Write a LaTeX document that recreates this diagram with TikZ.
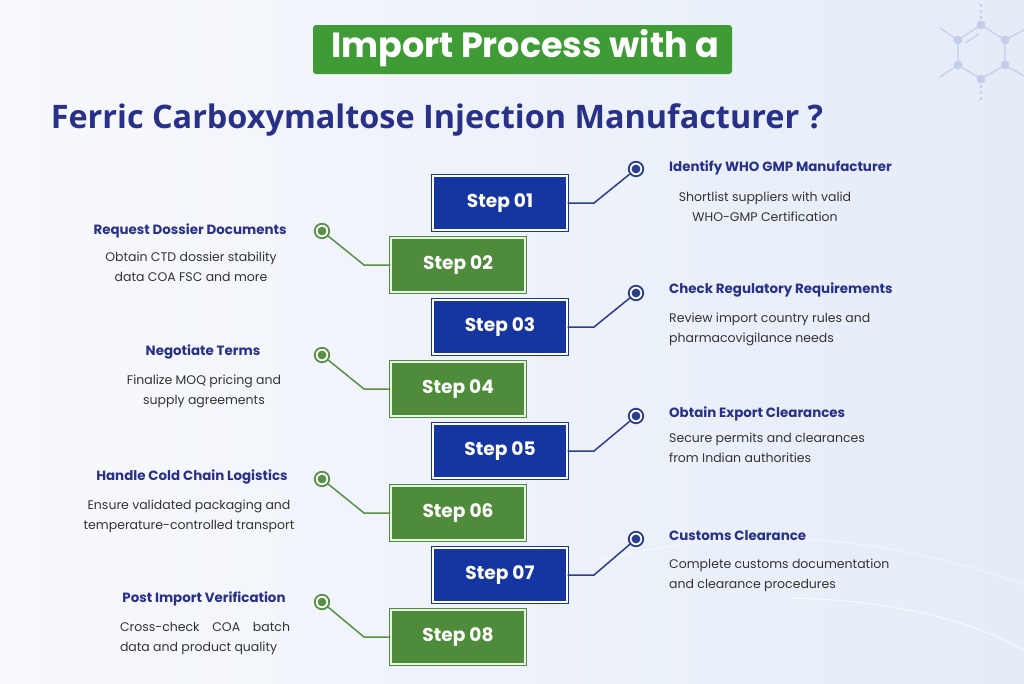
\documentclass[tikz,border=0pt]{standalone}
\usepackage{fontspec}
\setmainfont{Poppins}
\newfontfamily\headfont{Open Sans}
\usetikzlibrary{calc}

\definecolor{stepblue}{HTML}{1535A0}
\definecolor{stepgreen}{HTML}{4E8B3A}
\definecolor{bannergreen}{HTML}{3E9B35}
\definecolor{navytext}{HTML}{283088}
\definecolor{bodygray}{HTML}{333333}
\definecolor{linkblue}{HTML}{2C3D8C}
\definecolor{linkgreen}{HTML}{5A8F48}
\definecolor{molecule}{HTML}{C6CDEA}
\definecolor{bgleft}{HTML}{F8F9FC}
\definecolor{bgright}{HTML}{E4ECF8}

\begin{document}
\begin{tikzpicture}[x=1pt,y=-1pt,
  bluebox/.style={rectangle,fill=stepblue,draw=stepblue,double=white,double distance=1.6pt,
    line width=1.4pt,minimum width=134pt,minimum height=54pt,inner sep=0pt,text=white,
    font=\bfseries\fontsize{18.6}{20}\selectfont},
  greenbox/.style={bluebox,fill=stepgreen,draw=stepgreen,double=white!88!stepgreen},
  bluedot/.style={circle,draw=linkblue,line width=1.8pt,fill=white,minimum size=14.5pt,inner sep=0pt,
    path picture={\fill[linkblue] (path picture bounding box.center) circle (4.4);}},
  greendot/.style={bluedot,draw=linkgreen,
    path picture={\fill[linkgreen] (path picture bounding box.center) circle (4.4);}},
  bluelink/.style={draw=linkblue,line width=1.5pt},
  greenlink/.style={draw=linkgreen,line width=1.5pt},
  headline/.style={text=navytext,font=\bfseries\fontsize{13.4}{16}\selectfont,inner sep=0pt},
  bodytext/.style={text=bodygray,font=\fontsize{12.5}{20}\selectfont,inner sep=0pt}]

  % background
  \shade[left color=bgleft,right color=bgright] (0,0) rectangle (1024,683);
  \useasboundingbox (0,0) rectangle (1024,683);
  \draw[white,line width=1.2pt,opacity=0.7] (790,598) .. controls (880,600) and (960,615) .. (1024,650);
  \draw[white,line width=1pt,opacity=0.5] (600,560) .. controls (760,520) and (900,540) .. (1024,585);

  % molecule
  \coordinate (m1) at (981,25);
  \coordinate (m2) at (1005,40);
  \coordinate (m3) at (1005,65);
  \coordinate (m4) at (981,79);
  \coordinate (m5) at (958,65);
  \coordinate (m6) at (958,40);
  \draw[molecule,line width=1.2pt] (m1) -- (m2) -- (m3) -- (m4) -- (m5) -- (m6) -- cycle;
  \draw[molecule,line width=1.2pt] (m6) -- (940,28);
  \draw[molecule,line width=1.2pt] (m5) -- (940,77);
  \draw[molecule,line width=1.2pt] (m2) -- (1024,30);
  \draw[molecule,line width=1.2pt] (m3) -- (1024,76);
  \draw[molecule,line width=1.2pt] (965,43) -- (979,34);
  \draw[molecule,line width=1.2pt,dashed] (m1) -- (981,4);
  \draw[molecule,line width=1.2pt,dashed] (m4) -- (981,100);
  \foreach \m in {m1,m2,m3,m4,m5,m6}
    \fill[molecule] (\m) circle (4.4);

  % titles
  \fill[bannergreen,rounded corners=3pt] (313,25) rectangle (732,74);
  \node[anchor=base,text=white,inner sep=0pt,font=\bfseries\fontsize{35}{38}\selectfont] (banner) at (525,57) {Import Process with a};
  \node[anchor=base,text=navytext,inner sep=0pt,font=\headfont\bfseries\fontsize{32.4}{36}\selectfont] (maintitle) at (437,128) {Ferric Carboxymaltose Injection Manufacturer ?};

  % steps
  \node[bluebox] (step1) at (500,203) {Step 01};
  \node[greenbox] (step2) at (458,265) {Step 02};
  \node[bluebox] (step3) at (500,327) {Step 03};
  \node[greenbox] (step4) at (458,389) {Step 04};
  \node[bluebox] (step5) at (500,451) {Step 05};
  \node[greenbox] (step6) at (458,513) {Step 06};
  \node[bluebox] (step7) at (500,575) {Step 07};
  \node[greenbox] (step8) at (458,637) {Step 08};

  % markers
  \node[bluedot] (dot1) at (636,169) {};
  \node[greendot] (dot2) at (322,231) {};
  \node[bluedot] (dot3) at (636,293) {};
  \node[greendot] (dot4) at (322,355) {};
  \node[bluedot] (dot5) at (636,416) {};
  \node[greendot] (dot6) at (322,479) {};
  \node[bluedot] (dot7) at (636,539) {};
  \node[greendot] (dot8) at (322,602) {};

  \coordinate (bend1) at (594,203);
  \coordinate (bend2) at (364,265);
  \coordinate (bend3) at (594,327);
  \coordinate (bend4) at (364,389);
  \coordinate (bend5) at (594,451);
  \coordinate (bend6) at (364,513);
  \coordinate (bend7) at (594,575);
  \coordinate (bend8) at (364,637);

  \draw[bluelink] (step1.east) -- (bend1) -- (dot1);
  \draw[greenlink] (step2.west) -- (bend2) -- (dot2);
  \draw[bluelink] (step3.east) -- (bend3) -- (dot3);
  \draw[greenlink] (step4.west) -- (bend4) -- (dot4);
  \draw[bluelink] (step5.east) -- (bend5) -- (dot5);
  \draw[greenlink] (step6.west) -- (bend6) -- (dot6);
  \draw[bluelink] (step7.east) -- (bend7) -- (dot7);
  \draw[greenlink] (step8.west) -- (bend8) -- (dot8);

  % right side texts
  \node[headline,anchor=west] (head1) at (669,168) {Identify WHO GMP Manufacturer};
  \node[bodytext,align=center] (text1) at (765,207) {Shortlist suppliers with valid\\WHO-GMP Certification};
  \node[headline,anchor=west] (head3) at (669,290) {Check Regulatory Requirements};
  \node[bodytext,align=left,anchor=west] (text3) at (669,329) {Review import country rules and\\pharmacovigilance needs};
  \node[headline,anchor=west] (head5) at (669,414) {Obtain Export Clearances};
  \node[bodytext,align=left,anchor=west] (text5) at (669,448) {Secure permits and clearances\\from Indian authorities};
  \node[headline,anchor=west] (head7) at (669,536) {Customs Clearance};
  \node[bodytext,align=left,anchor=west] (text7) at (669,575) {Complete customs documentation\\and clearance procedures};

  % left side texts
  \node[headline] (head2) at (190,231) {Request Dossier Documents};
  \node[bodytext,align=center] (text2) at (191,267) {Obtain CTD dossier stability\\data COA FSC and more};
  \node[headline] (head4) at (203,352) {Negotiate Terms};
  \node[bodytext,align=center] (text4) at (204,391) {Finalize MOQ pricing and\\supply agreements};
  \node[headline] (head6) at (192,477) {Handle Cold Chain Logistics};
  \node[bodytext,align=center] (text6) at (189,516) {Ensure validated packaging and\\temperature-controlled transport};
  \node[headline] (head8) at (204,599) {Post Import Verification};
  \node[bodytext,align=left] (text8) at (205,638) {\makebox[170pt][s]{Cross-check COA batch}\\data and product quality};
\end{tikzpicture}
\end{document}
